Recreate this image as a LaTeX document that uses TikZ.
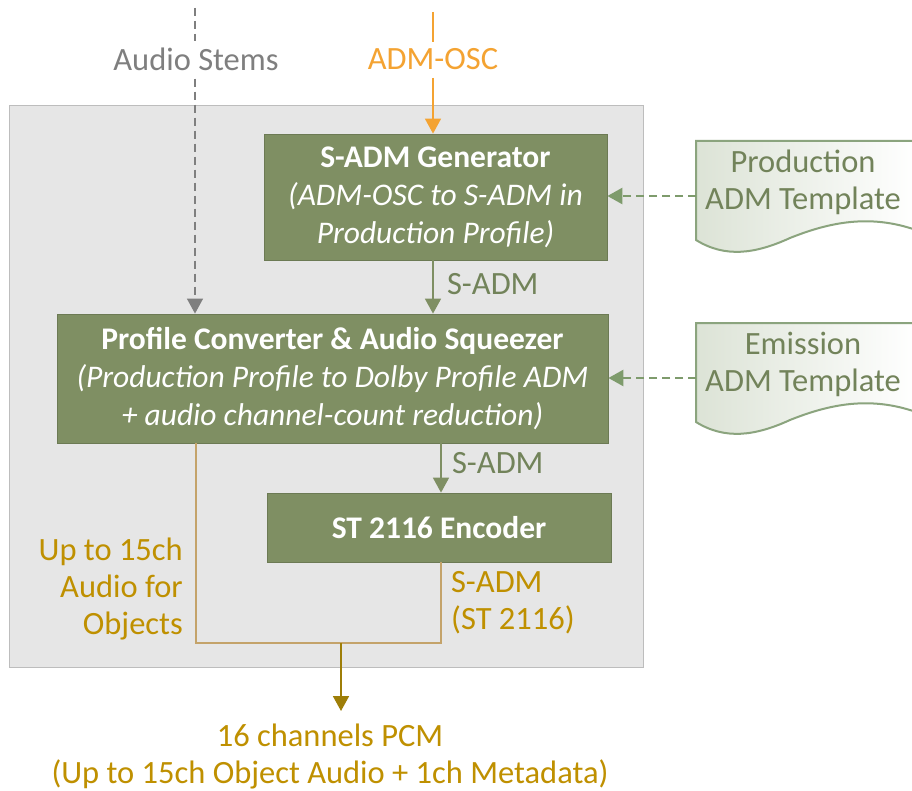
\documentclass[tikz,border=0pt]{standalone}
\usepackage{fontspec}
\setmainfont{Carlito}
\usetikzlibrary{arrows.meta}
\definecolor{boxgreen}{HTML}{7F8F63}
\definecolor{lblgreen}{HTML}{72835A}
\definecolor{dashgreen}{HTML}{7E9B6C}
\definecolor{docedge}{HTML}{8BA47E}
\definecolor{docfill}{HTML}{DCE3D6}
\definecolor{contfill}{HTML}{E6E6E6}
\definecolor{contedge}{HTML}{BDBDBD}
\definecolor{stemgrey}{HTML}{7F7F7F}
\definecolor{oscorange}{HTML}{F4A332}
\definecolor{tan}{HTML}{C4A36A}
\definecolor{gold}{HTML}{BF9000}
\definecolor{darkgold}{HTML}{9E7E08}
\tikzset{
  txt/.style={font=\fontsize{32.5}{37}\selectfont, inner sep=0pt, align=center},
  gbox/.style={fill=boxgreen, draw=boxgreen!85!black, line width=0.8pt, text=white, align=center, inner sep=0pt, font=\fontsize{31.5}{38}\selectfont},
  tip/.style={-{Triangle[width=16pt,length=15pt]}},
  doc/.style={draw=docedge, line width=2pt, left color=docfill, right color=white},
}
\begin{document}
\begin{tikzpicture}[x=1pt,y=-1pt]
\useasboundingbox (0,0) rectangle (912,791);
\clip (0,0) rectangle (912,791);
\fill[white] (0,0) rectangle (912,791);

% container
\node[fill=contfill, draw=contedge, line width=1.5pt, minimum width=634pt, minimum height=562pt, inner sep=0pt] (cont) at (326.5,386.5) {};

% boxes
\node[gbox, minimum width=343pt, minimum height=126pt] (gen) at (435.5,197)
  {\textbf{S-ADM Generator}\\\textit{(ADM-OSC to S-ADM in}\\\textit{Production Profile)}};
\node[gbox, minimum width=551pt, minimum height=129pt] (conv) at (332.5,378.5)
  {\textbf{Profile Converter \& Audio Squeezer}\\\textit{(Production Profile to Dolby Profile ADM}\\\textit{+ audio channel-count reduction)}};
\node[gbox, minimum width=344pt, minimum height=69pt] (enc) at (439,527.5)
  {\textbf{ST 2116 Encoder}};

% documents
\path[doc] (696,141) -- (916,141) -- (916,230)
  .. controls (870,214) and (830,222) .. (790,238)
  .. controls (755,254) and (725,258) .. (696,240) -- cycle;
\path[doc] (696,323) -- (916,323) -- (916,412)
  .. controls (870,396) and (830,404) .. (790,420)
  .. controls (755,436) and (725,440) .. (696,422) -- cycle;
\node[txt, text=lblgreen] (ptpl) at (803,182) {Production\\ADM Template};
\node[txt, text=lblgreen] (etpl) at (803,364) {Emission\\ADM Template};
\coordinate (pin) at (696,196);
\coordinate (ein) at (696,378);
\draw[dashgreen, line width=2.5pt, dash pattern=on 8pt off 5pt, tip] (pin) -- (gen.east |- pin);
\draw[dashgreen, line width=2.5pt, dash pattern=on 8pt off 5pt, tip] (ein) -- (conv.east |- ein);

% inputs
\node[txt, text=stemgrey] (stems) at (196,59) {Audio Stems};
\node[txt, text=oscorange] (osc) at (433,59) {ADM-OSC};
\coordinate (stemtop) at (195,8);
\coordinate (osctop) at (433,12);
\coordinate (sx) at (195,0);
\draw[stemgrey, line width=1.3pt, dash pattern=on 8pt off 5pt] (stemtop) -- ([yshift=6pt]stems.north -| sx);
\draw[stemgrey, line width=1.3pt, dash pattern=on 8pt off 5pt, tip] ([yshift=-8pt]stems.south -| sx) -- (conv.north -| sx);
\draw[oscorange, line width=1.5pt] (osctop) -- ([yshift=6pt]osc.north);
\draw[oscorange, line width=1.5pt, tip] ([yshift=-8pt]osc.south) -- (gen.north -| osc);

% S-ADM links
\coordinate (g1) at (433,0);
\draw[boxgreen, line width=1.8pt, tip] (gen.south -| g1) -- (conv.north -| g1);
\node[txt, text=lblgreen, anchor=west] (l1) at (447,284) {S-ADM};
\coordinate (g2) at (441,0);
\draw[boxgreen, line width=1.8pt, tip] (conv.south -| g2) -- (enc.north -| g2);
\node[txt, text=lblgreen, anchor=west] (l2) at (452,463) {S-ADM};

% outputs
\coordinate (j) at (341,643);
\coordinate (lx) at (196,0);
\draw[tan, line width=1.8pt] (conv.south -| lx) |- (j) -| (enc.south -| g2);
\coordinate (outtip) at (341,711);
\draw[darkgold, line width=1.8pt, tip] (j) -- (outtip);
\node[txt, text=gold, align=right, anchor=east] (l3) at (183,589) {Up to 15ch\\Audio for\\Objects};
\node[txt, text=gold, align=left, anchor=west] (l4) at (451,603) {S-ADM\\(ST 2116)};
\node[txt, text=gold] (out) at (330,756) {16 channels PCM\\(Up to 15ch Object Audio + 1ch Metadata)};
\end{tikzpicture}
\end{document}
